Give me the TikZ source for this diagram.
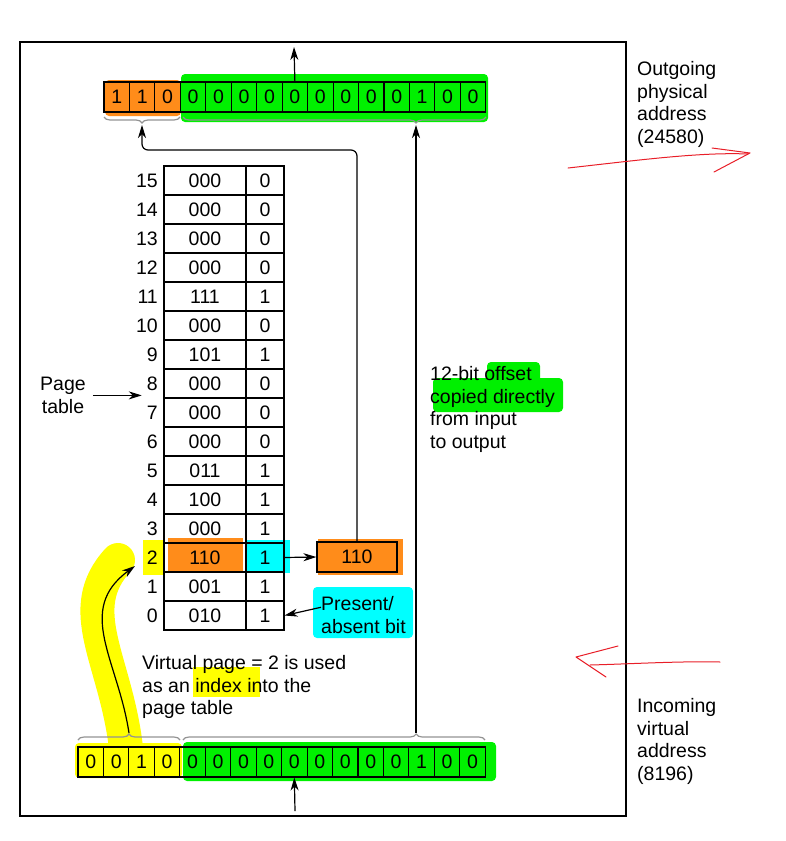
\documentclass[tikz,border=0pt]{standalone}
\usepackage{fontspec}
\setmainfont{Liberation Sans}
\usepackage{tikz}
\usetikzlibrary{arrows.meta}
\usetikzlibrary{decorations.pathreplacing}
\definecolor{hl_orange}{RGB}{255,140,26}
\definecolor{hl_green}{RGB}{0,240,0}
\definecolor{hl_yellow}{RGB}{255,255,0}
\definecolor{hl_cyan}{RGB}{0,255,255}
\definecolor{pen_red}{RGB}{232,30,40}
\tikzset{
  cell/.style = {draw=black, line width=1.1pt, inner sep=0pt, text centered},
  bit_cell/.style = {cell, minimum width=25.45pt, minimum height=30pt},% un bit d'adresse
  frame_cell/.style = {cell, minimum width=82pt, minimum height=29pt},% numero de cadre
  present_cell/.style = {cell, minimum width=38pt, minimum height=29pt},% bit present/absent
  idx_label/.style = {anchor=east, inner sep=0pt},
  note/.style = {align=left, anchor=north west, inner sep=0pt},
  addr_brace/.style = {draw=gray!85, line width=1.2pt, decorate},
  link/.style = {-{Stealth[length=13pt, width=8pt, inset=4pt]}, line width=1.2pt},
  highlight/.style = {rounded corners=4pt},
  scribble/.style = {pen_red, line width=1pt, line cap=round, line join=round}
}

\begin{document}
\begin{tikzpicture}[x=1pt, y=-1pt, font=\fontsize{19.5}{22.8}\selectfont]
      \useasboundingbox (0,0) rectangle (786,841);
      % surlignages
      \fill[hl_orange, highlight] (105,80) rectangle (181,116);
      \fill[hl_green, highlight] (181,74) rectangle (488,122);
      \fill[hl_green, highlight] (183,742) rectangle (496,781);
      \draw[hl_yellow, line width=34pt, line cap=round] (126,748) .. controls (116,660) and (72,610) .. (118,560);
      \fill[hl_yellow, highlight] (75,743) rectangle (182,778);
      \fill[hl_yellow] (143,540) rectangle (164,575);
      \fill[hl_orange] (168,538) rectangle (243,572);
      \fill[hl_cyan] (246,540) rectangle (290,573);
      \fill[hl_orange] (318,539) rectangle (403,575);
      \fill[hl_cyan, highlight] (313,587) rectangle (413,638);
      \fill[hl_yellow] (193,667) rectangle (260,697);
      \fill[hl_green, highlight] (487,362) rectangle (540,383);
      \fill[hl_green, highlight] (433,378) rectangle (563,412);
      \draw[line width=1.3pt] (20,42) rectangle (626,816);
      % adresses
      \foreach \b [count=\i from 0] in {1,1,0,0,0,0,0,0,0,0,0,0,1,0,0}
        \node[bit_cell] (out\i) at ({104+25.45*(\i+0.5)},97) {\b};
      \foreach \b [count=\i from 0] in {0,0,1,0,0,0,0,0,0,0,0,0,0,1,0,0}
        \node[bit_cell] (in\i) at ({78+25.45*(\i+0.5)},762) {\b};
      % table des pages
      \foreach \r/\f/\p in {15/000/0, 14/000/0, 13/000/0, 12/000/0, 11/111/1, 10/000/0,
          9/101/1, 8/000/0, 7/000/0, 6/000/0, 5/011/1, 4/100/1, 3/000/1, 2/110/1,
          1/001/1, 0/010/1} {
        \node[frame_cell] (pte_frame\r) at (205,{166+(15-\r)*29+14.5}) {\f};
        \node[present_cell] (pte_bit\r) at (265,{166+(15-\r)*29+14.5}) {\p};
        \node[idx_label] (idx\r) at (158,{166+(15-\r)*29+14.5}) {\r};
      }
      \node[cell, minimum width=80pt, minimum height=30pt] (frame_out) at (357,557) {110};
      % textes
      \node[note] (out_lbl) at (637,61) {Outgoing\\physical\\address\\(24580)};
      \node[note] (in_lbl) at (637,698) {Incoming\\virtual\\address\\(8196)};
      \node[note] (offset_lbl) at (430,366) {12-bit offset\\copied directly\\from input\\to output};
      \node[note] (index_lbl) at (142,655) {Virtual page = 2 is used\\as an index into the\\page table};
      \node[note] (absent_lbl) at (321,596) {Present/\\absent bit};
      \node[align=center, anchor=north, inner ysep=0pt, inner xsep=7pt] (page_lbl) at (63,377) {Page\\table};
      % accolades
      \coordinate (out_page_tip) at (142,125);
      \coordinate (out_offset_tip) at (416,125);
      \coordinate (in_page_tip) at (129,733);
      \coordinate (in_offset_tip) at (416,733);
      \coordinate (turn_pt) at (142,150);
      \coordinate (out_exit) at (294,47);
      \coordinate (in_entry) at (295,811);
      \coordinate (index_tip) at (135,566);
      \draw[addr_brace, decoration={brace, amplitude=6pt, mirror}] (104,117) -- (180,117);
      \draw[addr_brace, decoration={brace, amplitude=6pt, mirror, aspect=0.769}] (183,117) -- (486,117);
      \draw[addr_brace, decoration={brace, amplitude=6pt}] (78,740) -- (180,740);
      \draw[addr_brace, decoration={brace, amplitude=6pt, aspect=0.772}] (183,740) -- (485,740);
      % fleches
      \draw[link] (out7.north) -- (out_exit);
      \draw[link] (in_entry) -- (in8.south);
      \draw[link] (in_offset_tip) -- (out_offset_tip);
      \draw[link, rounded corners=6pt] (frame_out.north) |- (turn_pt) -- (out_page_tip);
      \draw[link] (pte_bit2.east) -- (frame_out.west);
      \draw[link] (absent_lbl.170) -- (pte_bit0.east);
      \draw[link] (page_lbl.east) -- ([xshift=-5pt]page_lbl.east -| idx8.west);
      \draw[link] (in_page_tip) .. controls (118,660) and (75,610) .. (index_tip);
      % traits rouges
      \draw[scribble] (568,168) .. controls (640,160) and (700,152) .. (748,154);
      \draw[scribble] (712,148) -- (750,153) -- (714,172);
      \draw[scribble] (720,662) .. controls (680,661) and (630,664) .. (590,665);
      \draw[scribble] (618,646) -- (576,657) -- (606,677);
    \end{tikzpicture}
\end{document}
